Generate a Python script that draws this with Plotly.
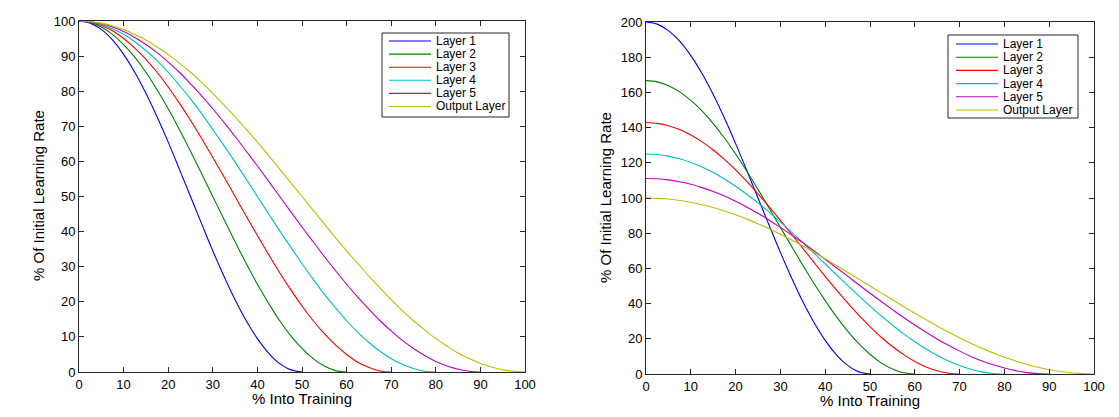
import plotly.graph_objects as go

W, H = 1119, 417

names = ["Layer 1", "Layer 2", "Layer 3", "Layer 4", "Layer 5", "Output Layer"]
colors = ["#0000FF", "#008000", "#FF0000", "#00BFBF", "#BF00BF", "#BFBF00"]

# x positions (% into training), sampled every 2.5% until each curve reaches 0
x_out = [0, 2.5, 5, 7.5, 10, 12.5, 15, 17.5, 20, 22.5, 25, 27.5, 30, 32.5, 35, 37.5,
         40, 42.5, 45, 47.5, 50, 52.5, 55, 57.5, 60, 62.5, 65, 67.5, 70, 72.5, 75,
         77.5, 80, 82.5, 85, 87.5, 90, 92.5, 95, 97.5, 100]
x_l1 = x_out[:21]
x_l2 = x_out[:25]
x_l3 = x_out[:29]
x_l4 = x_out[:33]
x_l5 = x_out[:37]

# Left chart: % of initial learning rate
left_l1 = [100, 99.4, 97.6, 94.6, 90.5, 85.4, 79.4, 72.7, 65.5, 57.8, 50, 42.2, 34.5, 27.3,
           20.6, 14.6, 9.5, 5.4, 2.4, 0.6, 0]
left_l2 = [100, 99.6, 98.3, 96.2, 93.3, 89.7, 85.4, 80.4, 75, 69.1, 62.9, 56.5, 50, 43.5,
           37.1, 30.9, 25, 19.6, 14.6, 10.3, 6.7, 3.8, 1.7, 0.4, 0]
left_l3 = [100, 99.7, 98.7, 97.2, 95.0, 92.3, 89.1, 85.4, 81.2, 76.6, 71.7, 66.5, 61.1, 55.6,
           50, 44.4, 38.9, 33.5, 28.3, 23.4, 18.8, 14.6, 10.9, 7.7, 5.0, 2.8, 1.3, 0.3, 0]
left_l4 = [100, 99.8, 99.0, 97.8, 96.2, 94.1, 91.6, 88.7, 85.4, 81.7, 77.8, 73.6, 69.1, 64.5,
           59.8, 54.9, 50, 45.1, 40.2, 35.5, 30.9, 26.4, 22.2, 18.3, 14.6, 11.3, 8.4, 5.9,
           3.8, 2.2, 1.0, 0.2, 0]
left_l5 = [100, 99.8, 99.2, 98.3, 97.0, 95.3, 93.3, 91.0, 88.3, 85.4, 82.1, 78.7, 75, 71.1,
           67.1, 62.9, 58.7, 54.4, 50, 45.6, 41.3, 37.1, 32.9, 28.9, 25, 21.3, 17.9, 14.6,
           11.7, 9.0, 6.7, 4.7, 3.0, 1.7, 0.8, 0.2, 0]
left_out = [100, 99.8, 99.4, 98.6, 97.6, 96.2, 94.6, 92.6, 90.5, 88.0, 85.4, 82.5, 79.4, 76.1,
            72.7, 69.1, 65.5, 61.7, 57.8, 53.9, 50, 46.1, 42.2, 38.3, 34.5, 30.9, 27.3, 23.9,
            20.6, 17.5, 14.6, 12.0, 9.5, 7.4, 5.4, 3.8, 2.4, 1.4, 0.6, 0.2, 0]

# Right chart: % of initial learning rate (rescaled peaks)
right_l1 = [200, 198.8, 195.1, 189.1, 180.9, 170.7, 158.8, 145.4, 130.9, 115.6, 100, 84.4,
            69.1, 54.6, 41.2, 29.3, 19.1, 10.9, 4.9, 1.2, 0]
right_l2 = [166.7, 166.0, 163.8, 160.3, 155.5, 149.5, 142.3, 134.1, 125.0, 115.2, 104.9, 94.2,
            83.3, 72.5, 61.8, 51.4, 41.7, 32.6, 24.4, 17.2, 11.2, 6.3, 2.8, 0.7, 0]
right_l3 = [142.9, 142.4, 141.1, 138.9, 135.8, 131.9, 127.3, 121.9, 116.0, 109.4, 102.4, 95.0,
            87.3, 79.4, 71.4, 63.4, 55.5, 47.8, 40.4, 33.4, 26.9, 20.9, 15.6, 11.0, 7.1, 4.0,
            1.8, 0.4, 0]
right_l4 = [125, 124.7, 123.8, 122.3, 120.2, 117.6, 114.5, 110.8, 106.7, 102.1, 97.2, 92.0,
            86.4, 80.6, 74.7, 68.6, 62.5, 56.4, 50.3, 44.4, 38.6, 33.0, 27.8, 22.8, 18.3, 14.2,
            10.5, 7.4, 4.8, 2.7, 1.2, 0.3, 0]
right_l5 = [111.1, 110.9, 110.3, 109.2, 107.8, 105.9, 103.7, 101.1, 98.1, 94.8, 91.3, 87.4,
            83.3, 79.0, 74.6, 69.9, 65.2, 60.4, 55.6, 50.7, 45.9, 41.2, 36.6, 32.1, 27.8, 23.7,
            19.8, 16.3, 13.0, 10.0, 7.4, 5.2, 3.4, 1.9, 0.8, 0.2, 0]
right_out = [100, 99.8, 99.4, 98.6, 97.6, 96.2, 94.6, 92.6, 90.5, 88.0, 85.4, 82.5, 79.4, 76.1,
             72.7, 69.1, 65.5, 61.7, 57.8, 53.9, 50, 46.1, 42.2, 38.3, 34.5, 30.9, 27.3, 23.9,
             20.6, 17.5, 14.6, 12.0, 9.5, 7.4, 5.4, 3.8, 2.4, 1.4, 0.6, 0.2, 0]

x_ticks = [0, 10, 20, 30, 40, 50, 60, 70, 80, 90, 100]
left_y_ticks = [0, 10, 20, 30, 40, 50, 60, 70, 80, 90, 100]
right_y_ticks = [0, 20, 40, 60, 80, 100, 120, 140, 160, 180, 200]

xs = [x_l1, x_l2, x_l3, x_l4, x_l5, x_out]
lefts = [left_l1, left_l2, left_l3, left_l4, left_l5, left_out]
rights = [right_l1, right_l2, right_l3, right_l4, right_l5, right_out]

fig = go.Figure()
for i in range(6):
    fig.add_trace(go.Scatter(x=xs[i], y=lefts[i], mode="lines", name=names[i],
                             line=dict(color=colors[i], width=1.1, shape="spline", smoothing=1.0),
                             xaxis="x", yaxis="y", showlegend=False, cliponaxis=False))
for i in range(6):
    fig.add_trace(go.Scatter(x=xs[i], y=rights[i], mode="lines", name=names[i],
                             line=dict(color=colors[i], width=1.1, shape="spline", smoothing=1.0),
                             xaxis="x2", yaxis="y2", showlegend=False, cliponaxis=False))

FONT = "Liberation Sans, Arial, sans-serif"
axcommon = dict(showline=True, mirror="ticks", ticks="inside", ticklen=5, tickwidth=1,
                tickcolor="#262626", linecolor="#262626", linewidth=1, showgrid=False,
                zeroline=False, automargin=False,
                tickfont=dict(family=FONT, size=13, color="#000"))


def px_x(p):
    return p / W


def px_y(p):
    return 1 - p / H


fig.update_layout(
    width=W, height=H,
    margin=dict(l=0, r=0, t=0, b=0),
    paper_bgcolor="white", plot_bgcolor="white",
    xaxis=dict(domain=[px_x(79), px_x(525)], range=[0, 100], tickvals=x_ticks, anchor="y", **axcommon),
    yaxis=dict(domain=[px_y(372), px_y(21)], range=[0, 100], tickvals=left_y_ticks, anchor="x", **axcommon),
    xaxis2=dict(domain=[px_x(646), px_x(1094)], range=[0, 100], tickvals=x_ticks, anchor="y2", **axcommon),
    yaxis2=dict(domain=[px_y(374), px_y(22)], range=[0, 200], tickvals=right_y_ticks, anchor="x2", **axcommon),
    showlegend=False,
)

annotations = []
shapes = []
# axis titles
TFONT = dict(family=FONT, size=15, color="#000")
annotations.append(dict(text="% Into Training", x=px_x(302), y=px_y(398), xref="paper", yref="paper",
                        showarrow=False, font=TFONT, xanchor="center", yanchor="middle"))
annotations.append(dict(text="% Into Training", x=px_x(870), y=px_y(400), xref="paper", yref="paper",
                        showarrow=False, font=TFONT, xanchor="center", yanchor="middle"))
annotations.append(dict(text="% Of Initial Learning Rate", x=px_x(39), y=px_y(196), xref="paper", yref="paper",
                        showarrow=False, textangle=-90, font=TFONT, xanchor="center", yanchor="middle"))
annotations.append(dict(text="% Of Initial Learning Rate", x=px_x(606), y=px_y(198), xref="paper", yref="paper",
                        showarrow=False, textangle=-90, font=TFONT, xanchor="center", yanchor="middle"))

# manual legends
legends = [
    dict(box=(382, 33, 509, 117), line=(389, 431), text_x=434, y0=41, dy=13.1),
    dict(box=(948, 35, 1078, 118), line=(956, 998), text_x=1001, y0=44, dy=13.2),
]
for lg in legends:
    bx0, by0, bx1, by1 = lg["box"]
    shapes.append(dict(type="rect", xref="paper", yref="paper",
                       x0=px_x(bx0), x1=px_x(bx1), y0=px_y(by1), y1=px_y(by0),
                       line=dict(color="#262626", width=1), fillcolor="white", layer="above"))
    for i in range(6):
        yy = lg["y0"] + i * lg["dy"]
        shapes.append(dict(type="line", xref="paper", yref="paper",
                           x0=px_x(lg["line"][0]), x1=px_x(lg["line"][1]), y0=px_y(yy), y1=px_y(yy),
                           line=dict(color=colors[i], width=1.1), layer="above"))
        annotations.append(dict(text=names[i], x=px_x(lg["text_x"]), y=px_y(yy), xref="paper", yref="paper",
                                showarrow=False, xanchor="left", yanchor="middle",
                                font=dict(family=FONT, size=12, color="#000")))

fig.update_layout(annotations=annotations, shapes=shapes)
fig.write_html("out.html", config={"displayModeBar": False},
               post_script="document.body.style.margin='0';document.body.style.padding='0';"
                           "document.body.style.overflow='hidden';")
